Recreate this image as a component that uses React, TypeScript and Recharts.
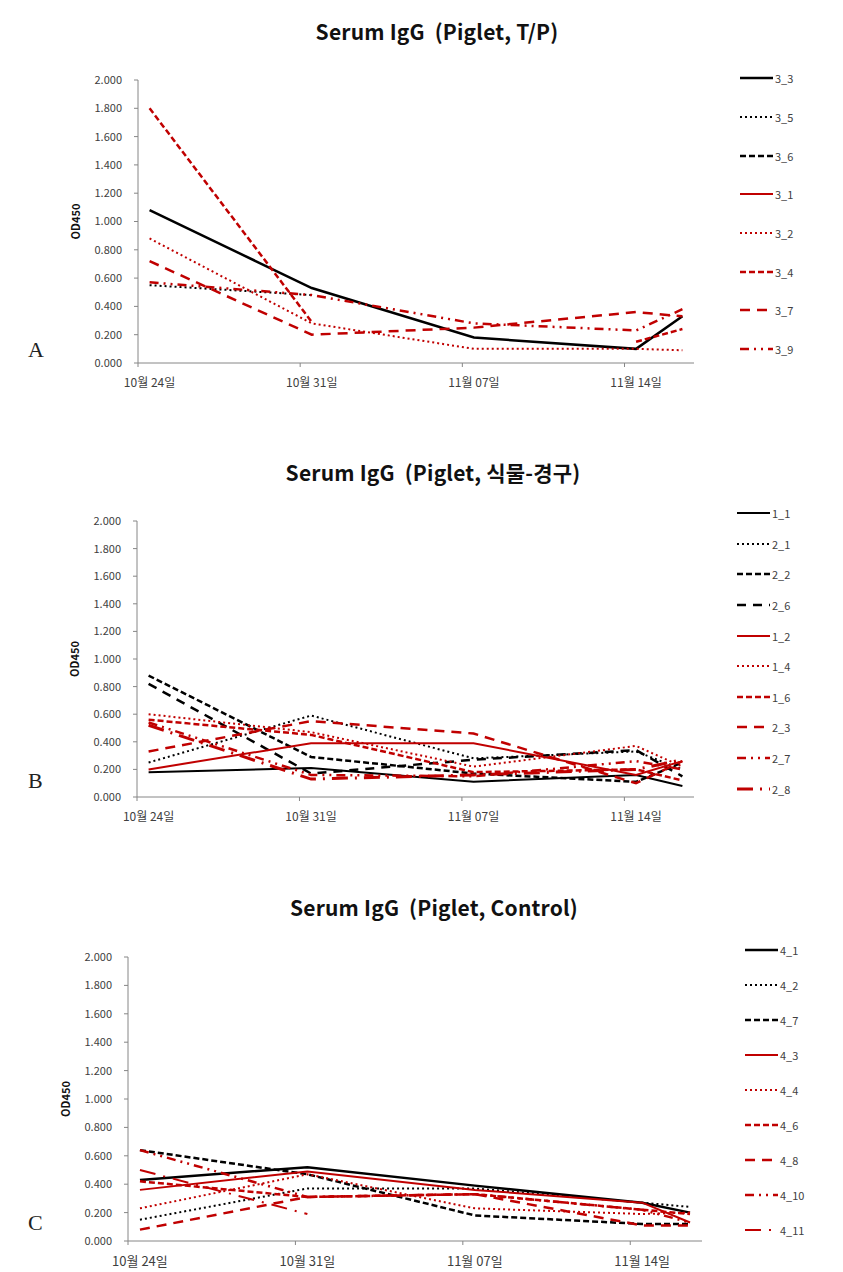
import React from 'react';
import { LineChart, Line, XAxis, YAxis, Legend } from 'recharts';

// sampling days, counted from 10월 24일
const sampleDays = [0, 7, 14, 21, 23];
const tickDays = [0, 7, 14, 21];
const tickLabels = ['10월 24일', '10월 31일', '11월 07일', '11월 14일'];
const yTicks = [0, 0.2, 0.4, 0.6, 0.8, 1.0, 1.2, 1.4, 1.6, 1.8, 2.0];

// A: T/P
const namesA = ['3_3', '3_5', '3_6', '3_1', '3_2', '3_4', '3_7', '3_9'];
const s3_3 = [1.08, 0.53, 0.18, 0.1, 0.33];
const s3_5 = [0.55, 0.48, null, null, null];
const s3_6 = [null, null, null, null, null];
const s3_1 = [null, null, null, null, null];
const s3_2 = [0.88, 0.28, 0.1, 0.1, 0.09];
const s3_4 = [1.8, 0.29, null, 0.15, 0.24];
const s3_7 = [0.72, 0.2, 0.25, 0.36, 0.33];
const s3_9 = [0.57, 0.48, 0.28, 0.23, 0.38];
const valuesA = [s3_3, s3_5, s3_6, s3_1, s3_2, s3_4, s3_7, s3_9];

// B: 식물-경구
const namesB = ['1_1', '2_1', '2_2', '2_6', '1_2', '1_4', '1_6', '2_3', '2_7', '2_8'];
const s1_1 = [0.18, 0.21, 0.11, 0.16, 0.08];
const s2_1 = [0.25, 0.59, 0.28, 0.33, 0.2];
const s2_2 = [0.88, 0.29, 0.17, 0.11, 0.25];
const s2_6 = [0.82, 0.17, 0.27, 0.34, 0.15];
const s1_2 = [0.2, 0.39, 0.39, 0.16, 0.26];
const s1_4 = [0.6, 0.47, 0.22, 0.37, 0.22];
const s1_6 = [0.56, 0.45, 0.18, 0.2, 0.12];
const s2_3 = [0.33, 0.55, 0.46, 0.1, 0.26];
const s2_7 = [0.54, 0.16, 0.15, 0.26, 0.2];
const s2_8 = [0.52, 0.13, 0.16, 0.2, 0.27];
const valuesB = [s1_1, s2_1, s2_2, s2_6, s1_2, s1_4, s1_6, s2_3, s2_7, s2_8];

// C: Control
const namesC = ['4_1', '4_2', '4_7', '4_3', '4_4', '4_6', '4_8', '4_10', '4_11'];
const s4_1 = [0.43, 0.52, 0.39, 0.27, 0.2];
const s4_2 = [0.15, 0.37, 0.37, 0.27, 0.24];
const s4_7 = [0.64, 0.47, 0.18, 0.12, 0.12];
const s4_3 = [0.36, 0.49, 0.36, 0.27, 0.13];
const s4_4 = [0.23, 0.47, 0.23, 0.19, 0.2];
const s4_6 = [0.42, 0.31, 0.33, 0.22, 0.19];
const s4_8 = [0.08, 0.31, 0.33, 0.11, 0.11];
const s4_10 = [0.64, 0.31, 0.33, 0.22, 0.13];
const s4_11 = [0.5, 0.19, null, null, null];
const valuesC = [s4_1, s4_2, s4_7, s4_3, s4_4, s4_6, s4_8, s4_10, s4_11];

const RED = '#C00000';
const lineStyles: Record<string, { stroke: string; width: number; dash?: string }> = {
  blackSolid: { stroke: '#000', width: 2.5 },
  blackSolidThin: { stroke: '#000', width: 2 },
  blackDot: { stroke: '#000', width: 2, dash: '2 3' },
  blackDash: { stroke: '#000', width: 2.5, dash: '6 3' },
  blackLongDash: { stroke: '#000', width: 2.5, dash: '9 7' },
  redSolid: { stroke: RED, width: 2 },
  redDot: { stroke: RED, width: 2, dash: '2 3' },
  redDash: { stroke: RED, width: 2.5, dash: '6 3' },
  redLongDash: { stroke: RED, width: 2.5, dash: '10 7' },
  redDashDotDot: { stroke: RED, width: 2.5, dash: '9 5 2 5 2 5' },
  redLongDashDot: { stroke: RED, width: 3, dash: '16 7 2 7' },
  redLongDashDotThin: { stroke: RED, width: 2, dash: '16 8 2 8' },
};

const stylesA = ['blackSolid', 'blackDot', 'blackDash', 'redSolid', 'redDot', 'redDash', 'redLongDash', 'redDashDotDot'];
const stylesB = ['blackSolidThin', 'blackDot', 'blackDash', 'blackLongDash', 'redSolid', 'redDot', 'redDash', 'redLongDash', 'redDashDotDot', 'redLongDashDot'];
const stylesC = ['blackSolid', 'blackDot', 'blackDash', 'redSolid', 'redDot', 'redDash', 'redLongDash', 'redDashDotDot', 'redLongDashDotThin'];

const FONT = '"Noto Sans CJK KR", "Noto Sans", sans-serif';
const AXIS = '#868686';
const W = 843;

type PanelProps = {
  top: number; height: number;
  plotLeft: number; plotRight: number; plotTop: number; plotBottom: number;
  title: string; titleY: number; titleX: number;
  letter: string; letterY: number;
  names: string[]; values: (number | null)[][]; styleKeys: string[];
  legendLeft: number; legendTop: number; legendRow: number;
  xFont: number;
};

const Panel = (p: PanelProps) => {
  const data = sampleDays.map((d, i) => {
    const row: Record<string, number | null> = { x: d + 0.5 };
    p.names.forEach((n, k) => { row[n] = p.values[k][i]; });
    return row;
  });
  const halfDay = (p.plotRight - p.plotLeft) / 48;
  const yw = 70;

  const DateTick = (props: any) => {
    const { x, y, payload } = props;
    const label = tickLabels[tickDays.indexOf(payload.value)];
    return (
      <text x={x + halfDay} y={y + p.xFont + 4} textAnchor="middle" fontSize={p.xFont} fill="#404040" fontFamily={FONT}>
        {label}
      </text>
    );
  };

  const legendBox = () => (
    <div style={{ fontFamily: FONT }}>
      {p.names.map((n, k) => {
        const st = lineStyles[p.styleKeys[k]];
        return (
          <div key={n} style={{ height: p.legendRow, display: 'flex', alignItems: 'center' }}>
            <svg width={33} height={6}>
              <line x1={0} y1={3} x2={33} y2={3} stroke={st.stroke} strokeWidth={st.width} strokeDasharray={st.dash} />
            </svg>
            <span style={{ fontSize: 11, color: '#404040', marginLeft: 2 }}>{n}</span>
          </div>
        );
      })}
    </div>
  );

  return (
    <div style={{ position: 'absolute', left: 0, top: p.top, width: W, height: p.height }}>
      <div style={{ position: 'absolute', left: p.titleX - 300, width: 600, top: p.titleY - p.top - 14, lineHeight: '28px', textAlign: 'center', whiteSpace: 'pre', fontFamily: FONT, fontWeight: 'bold', fontSize: 21, letterSpacing: 0.2, color: '#111' }}>
        {p.title}
      </div>
      <div style={{ position: 'absolute', left: 28, top: p.letterY - p.top - 14, lineHeight: '28px', fontFamily: '"Liberation Serif", serif', fontSize: 22, color: '#222' }}>
        {p.letter}
      </div>
      <LineChart
        width={W}
        height={p.height}
        data={data}
        margin={{ left: p.plotLeft - yw, right: W - p.plotRight, top: p.plotTop - p.top, bottom: p.top + p.height - p.plotBottom - 30 }}
      >
        <XAxis
          type="number"
          dataKey="x"
          domain={[0, 24]}
          ticks={tickDays}
          interval={0}
          height={30}
          tickSize={4}
          tickMargin={4}
          stroke={AXIS}
          tick={<DateTick />}
        />
        <YAxis
          type="number"
          domain={[0, 2]}
          ticks={yTicks}
          interval={0}
          width={yw}
          tickSize={4}
          tickMargin={12}
          stroke={AXIS}
          tickFormatter={(v: number) => v.toFixed(3)}
          tick={{ fontSize: 11, fill: '#404040', fontFamily: FONT }}
          label={{ value: 'OD450', angle: -90, position: 'insideLeft', offset: 8, style: { fontSize: 11, fontWeight: 'bold', fill: '#111', fontFamily: FONT, textAnchor: 'middle' } }}
        />
        <Legend
          layout="vertical"
          align="center"
          verticalAlign="middle"
          content={legendBox}
          wrapperStyle={{ position: 'absolute', left: p.legendLeft, top: p.legendTop - p.top, width: 90 }}
        />
        {p.names.map((n, k) => {
          const st = lineStyles[p.styleKeys[k]];
          return (
            <Line
              key={n}
              type="linear"
              dataKey={n}
              stroke={st.stroke}
              strokeWidth={st.width}
              strokeDasharray={st.dash}
              dot={false}
              activeDot={false}
              isAnimationActive={false}
            />
          );
        })}
      </LineChart>
    </div>
  );
};

const App = () => (
  <div style={{ position: 'absolute', left: 0, top: 0, width: W, height: 1272, background: '#fff' }}>
    <Panel
      top={0} height={420} plotLeft={138} plotRight={694} plotTop={80} plotBottom={363}
      title="Serum IgG  (Piglet, T/P)" titleY={31} titleX={437}
      letter="A" letterY={350}
      names={namesA} values={valuesA} styleKeys={stylesA}
      legendLeft={740} legendTop={59} legendRow={38.7} xFont={12}
    />
    <Panel
      top={420} height={440} plotLeft={137} plotRight={694} plotTop={521} plotBottom={797}
      title="Serum IgG  (Piglet, 식물-경구)" titleY={472} titleX={433}
      letter="B" letterY={781}
      names={namesB} values={valuesB} styleKeys={stylesB}
      legendLeft={737} legendTop={498} legendRow={30.6} xFont={12}
    />
    <Panel
      top={860} height={412} plotLeft={128} plotRight={702} plotTop={957} plotBottom={1241}
      title="Serum IgG  (Piglet, Control)" titleY={907} titleX={434}
      letter="C" letterY={1223}
      names={namesC} values={valuesC} styleKeys={stylesC}
      legendLeft={745} legendTop={933} legendRow={34.9} xFont={13}
    />
  </div>
);

export default App;
